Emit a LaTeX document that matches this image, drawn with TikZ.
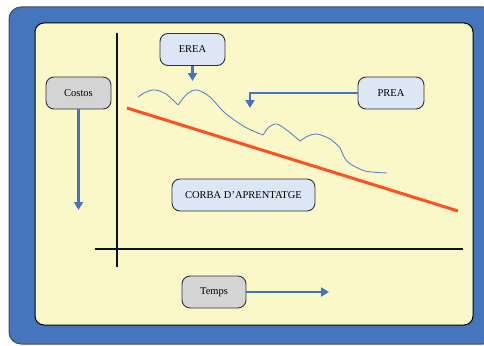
\documentclass[tikz,border=0pt]{standalone}
\usepackage{fontspec}
\setmainfont{Liberation Serif}
\usetikzlibrary{arrows.meta}
\definecolor{frameColor}{HTML}{4575BC}
\definecolor{paperColor}{HTML}{FAF7C8}
\definecolor{phaseColor}{HTML}{DCE6F5}
\definecolor{axisNameColor}{HTML}{D4D4D4}
\definecolor{flowColor}{HTML}{4472C4}
\definecolor{costColor}{HTML}{FF5022}
\definecolor{realColor}{HTML}{5B87C8}
\definecolor{axisColor}{HTML}{0B1426}

\tikzset{
  box/.style={draw=black!80, line width=0.9pt, rounded corners=8pt,
    minimum height=32pt, inner sep=0pt, font=\fontsize{10.5}{12}\selectfont},
  flow/.style={draw=flowColor, line width=2.6pt, -{Triangle[width=9pt,length=8pt]}},
  axis/.style={draw=axisColor, line width=2pt},
}

\begin{document}
\begin{tikzpicture}[x=1pt,y=-1pt]
  \useasboundingbox (0,0) rectangle (484,345);
  \clip (0,0) rectangle (484,345);

  % frame and sheet
  \draw[fill=frameColor, draw=black!70, line width=1pt, rounded corners=12pt] (9,7) rectangle (495,344);
  \draw[fill=paperColor, draw=black, line width=1pt, rounded corners=9pt] (35,23) rectangle (473,325);

  % axes
  \draw[axis] (117,33) -- (117,267);
  \draw[axis] (95,249) -- (463,249);

  % cost line and real curve
  \draw[costColor, line width=3pt] (127,108) -- (458,211);
  \draw[realColor, line width=0.9pt]
    plot[smooth] coordinates {(138,97) (146,92) (155,90) (166,94) (178,105)}
    plot[smooth] coordinates {(178,105) (187,94) (197,90) (210,97) (225,113) (245,127) (263,135)}
    plot[smooth] coordinates {(263,135) (269,127) (277,124) (288,131) (300,141)}
    plot[smooth] coordinates {(300,141) (308,136) (317,134) (330,139) (340,148) (343,155) (349,163) (365,171) (387,173)};

  % labels
  \node[box, fill=phaseColor, minimum width=65pt] (erea) at (192.5,49.5) {EREA};
  \node[box, fill=phaseColor, minimum width=66pt] (prea) at (391,93) {PREA};
  \node[box, fill=axisNameColor, minimum width=65pt] (costos) at (78.5,93) {Costos};
  \node[box, fill=phaseColor, minimum width=143pt] (corba) at (243.5,195) {CORBA D’APRENTATGE};
  \node[box, fill=axisNameColor, minimum width=64pt] (temps) at (214,292) {Temps};

  % arrows
  \coordinate (ereaEnd) at (192.5,81);
  \coordinate (preaEnd) at (250,108);
  \coordinate (costosEnd) at (78.5,210);
  \coordinate (tempsEnd) at (329,292);
  \draw[flow] (erea) -- (ereaEnd);
  \draw[flow] (prea) -| (preaEnd);
  \draw[flow] (costos) -- (costosEnd);
  \draw[flow] (temps) -- (tempsEnd);
\end{tikzpicture}
\end{document}
